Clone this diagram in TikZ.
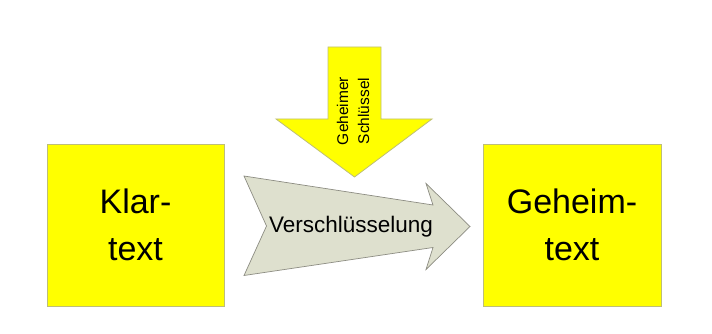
\documentclass[tikz,border=0pt]{standalone}
\usepackage{fontspec}
\setmainfont{Liberation Sans}
\definecolor{boxyellow}{RGB}{255,255,0}
\definecolor{boxborder}{RGB}{190,190,120}
\definecolor{greyfill}{RGB}{222,224,206}
\definecolor{greyborder}{RGB}{140,140,130}
\begin{document}
\begin{tikzpicture}[x=1pt,y=-1pt,
  yellowbox/.style={fill=boxyellow,draw=boxborder,line width=0.8pt},
  keyarrow/.style={fill=boxyellow,draw=boxborder,line width=0.8pt,line join=miter},
  encarrow/.style={fill=greyfill,draw=greyborder,line width=0.7pt,line join=miter},
  bigtext/.style={align=center,font=\fontsize{34}{46.5}\selectfont,inner sep=0pt},
]
\useasboundingbox (0,0) rectangle (712,334);
% boxes
\draw[yellowbox] (47,144) rectangle (224,306);
\draw[yellowbox] (483,144) rectangle (661,306);
\node[bigtext] (klar) at (135.5,225) {Klar-\\text};
\node[bigtext] (geheim) at (572,225) {Geheim-\\text};
% key arrow
\draw[keyarrow] (328,47) -- (381,47) -- (381,119) -- (432,119) -- (354.5,177)
  -- (276,119) -- (328,119) -- cycle;
\node[rotate=90,align=center,font=\fontsize{15.5}{21}\selectfont,inner sep=0pt] (key) at (353,111) {Geheimer\\Schlüssel};
% encryption arrow
\draw[encarrow] (244,176) -- (433,205) -- (426,183.5) -- (470,226.5)
  -- (426,269.5) -- (433,247.5) -- (244,275.5) -- (266.5,226) -- cycle;
\node[font=\fontsize{22.5}{27}\selectfont,inner sep=0pt] (enc) at (351,227) {Verschlüsselung};
\end{tikzpicture}
\end{document}
